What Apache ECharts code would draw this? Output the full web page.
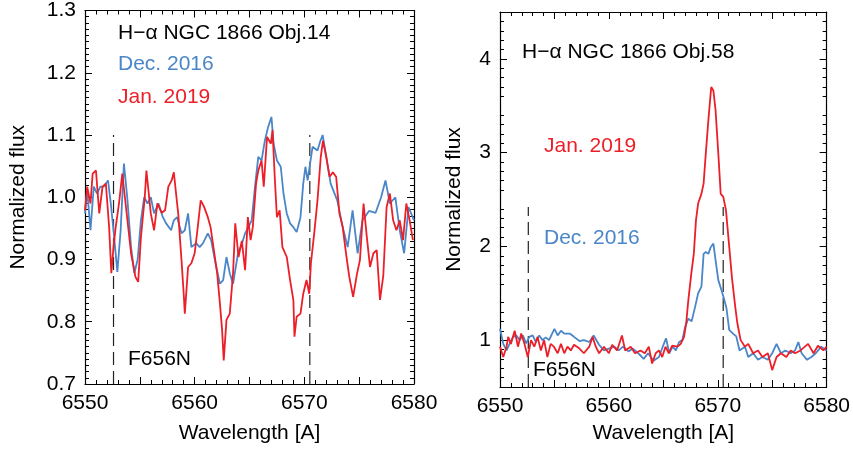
<!DOCTYPE html>
<html><head><meta charset="utf-8">
<script src="https://cdn.jsdelivr.net/npm/echarts@6/dist/echarts.min.js"></script>
<style>html,body{margin:0;padding:0;background:#fff}#c{width:853px;height:451px}</style>
</head><body><div id="c"></div>
<script>
// ---- Data: Obj.14 (left panel) ----
const wlDec14 = [6550.0,6550.2,6550.5,6550.8,6551.1,6551.4,6551.7,6552.1,6552.35,6552.6,6552.95,6553.25,6553.55,6553.85,6554.2,6554.5,6554.8,6555.1,6555.4,6555.7,6556.0,6556.3,6556.7,6557.1,6557.4,6557.85,6558.1,6558.4,6558.8,6559.1,6559.4,6559.7,6560.15,6560.45,6560.75,6561.2,6561.5,6561.9,6562.3,6562.6,6562.9,6563.2,6563.5,6563.95,6564.3,6564.6,6564.9,6565.2,6565.5,6565.8,6566.1,6566.4,6566.7,6567.0,6567.2,6567.5,6567.85,6568.1,6568.4,6568.7,6569.0,6569.3,6569.65,6569.9,6570.1,6570.3,6570.75,6571.2,6571.45,6571.67,6572.0,6572.4,6573.0,6573.5,6573.95,6574.4,6574.86,6575.3,6575.9,6576.5,6577.0,6577.4,6577.8,6578.3,6578.7,6579.1,6579.5,6580.0];
const fluxDec14 = [0.974,1.011,0.947,1.017,1.006,1.017,1.017,1.027,0.99,0.947,0.88,0.947,1.054,1.0,0.92,0.878,0.9,0.963,1.0,0.99,1.0,0.974,0.99,0.968,0.958,0.947,0.963,0.968,0.942,0.947,0.974,0.92,0.926,0.92,0.926,0.942,0.931,0.894,0.861,0.867,0.904,0.878,0.861,0.91,0.925,0.942,0.952,0.963,1.017,1.065,1.059,1.091,1.113,1.129,1.086,1.059,1.049,1.006,0.974,0.958,0.952,0.944,0.968,1.022,1.049,1.027,1.081,1.075,1.09,1.1,1.065,1.022,0.995,0.952,0.92,0.979,0.91,0.963,0.978,0.975,1.0,1.027,0.99,1.0,0.947,0.91,0.984,0.963];
const wlJan14 = [6550.0,6550.2,6550.5,6550.7,6551.0,6551.3,6551.6,6551.9,6552.2,6552.4,6552.6,6552.8,6553.1,6553.4,6553.7,6554.2,6554.6,6554.85,6555.1,6555.45,6555.6,6556.0,6556.3,6556.6,6557.0,6557.3,6557.6,6557.9,6558.1,6558.4,6558.5,6558.8,6559.0,6559.1,6559.4,6559.7,6560.0,6560.25,6560.55,6560.85,6561.2,6561.45,6561.75,6562.05,6562.3,6562.5,6562.65,6562.9,6563.2,6563.5,6563.7,6564.0,6564.3,6564.6,6564.85,6565.1,6565.3,6565.6,6565.8,6566.1,6566.3,6566.6,6566.95,6567.1,6567.3,6567.5,6567.75,6568.0,6568.4,6568.7,6569.0,6569.1,6569.3,6569.65,6569.9,6570.2,6570.45,6570.6,6570.9,6571.2,6571.5,6571.7,6572.0,6572.3,6572.6,6572.9,6573.2,6573.5,6573.8,6574.1,6574.45,6574.8,6575.07,6575.4,6575.7,6575.99,6576.3,6576.6,6576.9,6577.2,6577.5,6577.8,6578.1,6578.4,6578.7,6579.0,6579.3,6579.6,6579.9];
const fluxJan14 = [0.979,1.017,0.99,1.038,1.043,0.974,1.017,1.022,0.952,0.878,0.92,0.952,0.99,1.038,0.99,0.91,0.872,0.864,0.936,1.0,1.043,0.974,0.947,0.99,0.975,0.979,1.017,1.027,1.04,0.99,0.974,0.899,0.845,0.813,0.888,0.894,0.91,0.947,0.995,0.985,0.968,0.952,0.915,0.878,0.83,0.787,0.738,0.803,0.813,0.878,0.958,0.904,0.93,0.883,0.968,0.931,0.952,1.022,1.043,1.059,1.017,1.097,1.086,1.108,1.033,0.968,0.979,0.92,0.904,0.867,0.835,0.776,0.808,0.813,0.845,0.867,0.845,0.894,0.942,0.995,1.065,1.091,1.065,1.033,1.04,1.033,0.974,0.952,0.91,0.872,0.84,0.877,0.899,0.99,0.936,0.888,0.91,0.915,0.835,0.874,0.984,1.006,0.963,0.947,0.963,0.931,0.99,0.963,0.931];

// ---- Data: Obj.58 (right panel) ----
const wlDec58 = [6550.0,6550.3,6550.6,6550.9,6551.2,6551.5,6551.8,6552.1,6552.4,6552.7,6553.0,6553.3,6553.6,6553.9,6554.2,6554.5,6555.0,6555.3,6555.6,6555.9,6556.4,6556.8,6557.3,6557.7,6558.2,6558.6,6559.1,6559.55,6560.0,6560.5,6560.9,6561.3,6561.8,6562.2,6562.7,6563.2,6563.6,6564.1,6564.6,6564.95,6565.25,6565.55,6565.85,6566.15,6566.45,6566.75,6567.0,6567.3,6567.6,6567.93,6568.2,6568.5,6568.7,6568.9,6569.14,6569.35,6569.6,6569.8,6570.05,6570.35,6570.6,6570.8,6571.05,6571.4,6571.7,6572.0,6572.5,6572.8,6573.25,6573.7,6574.1,6574.6,6575.0,6575.4,6575.8,6576.2,6576.7,6577.1,6577.4,6577.7,6578.2,6578.6,6579.0,6579.5,6580.0];
const fluxDec58 = [1.12,0.96,0.89,0.965,1.035,1.05,1.0,1.05,0.965,1.035,1.05,0.98,1.05,1.0,1.03,1.0,1.12,1.05,1.1,1.07,1.07,1.035,0.99,1.0,0.98,1.05,0.95,0.89,0.91,0.93,0.89,0.93,0.88,0.91,0.86,0.80,0.86,0.78,0.82,0.93,1.02,0.86,0.93,0.89,0.98,1.0,1.14,1.23,1.2,1.36,1.5,1.57,1.92,1.94,1.92,1.99,2.03,1.85,1.64,1.53,1.43,1.34,1.11,1.07,1.04,0.89,0.93,0.82,0.86,0.79,0.82,0.79,0.86,0.96,0.86,0.89,0.86,0.89,0.98,0.86,0.79,0.82,0.86,0.93,0.89];
const wlJan58 = [6550.0,6550.3,6550.6,6550.75,6551.0,6551.35,6551.65,6551.95,6552.25,6552.55,6552.85,6553.15,6553.45,6553.75,6554.05,6554.35,6554.65,6554.95,6555.3,6555.6,6555.9,6556.2,6556.5,6556.8,6557.3,6557.7,6558.2,6558.5,6558.8,6559.1,6559.55,6560.0,6560.3,6560.75,6561.2,6561.5,6562.0,6562.4,6562.9,6563.3,6563.67,6563.97,6564.3,6564.6,6564.9,6565.2,6565.5,6565.8,6566.3,6566.6,6566.9,6567.1,6567.3,6567.57,6567.8,6568.0,6568.2,6568.5,6568.7,6568.9,6569.14,6569.4,6569.6,6569.8,6570.05,6570.27,6570.5,6570.75,6571.05,6571.3,6571.6,6571.8,6572.1,6572.5,6572.8,6573.25,6573.7,6574.1,6574.6,6575.0,6575.4,6575.8,6576.3,6576.7,6577.1,6577.6,6578.0,6578.3,6578.8,6579.2,6579.7,6580.0];
const fluxJan58 = [0.93,0.82,0.93,1.035,0.96,1.1,0.93,1.07,0.96,0.82,1.0,0.93,1.035,0.89,1.0,0.82,0.96,0.93,0.86,0.96,0.86,0.93,0.89,0.95,0.91,0.86,0.93,1.035,0.93,0.86,0.93,0.86,0.95,0.89,1.05,0.89,0.93,0.86,0.89,0.86,0.93,0.75,0.86,0.89,0.82,0.93,0.86,0.94,0.93,0.96,1.035,1.18,1.43,1.71,1.92,2.28,2.46,2.56,2.67,2.99,3.35,3.70,3.66,3.45,2.99,2.56,2.53,2.39,2.0,1.67,1.36,1.18,1.0,0.93,0.96,0.86,0.89,0.82,0.86,0.68,0.82,0.86,0.82,0.89,0.86,0.89,0.93,0.96,0.86,0.94,0.89,0.93];

// F656N filter edges and dashed-line ranges
const filterEdges = [6552.6, 6570.5];
const dashTop14 = 1.1, dashBottom14 = 0.7;
const dashTop58 = 2.42, dashBottom58 = 0.5;

// Axis tick values
const yLabels58 = [1, 2, 3, 4];

const BLUE = '#4a86c8', RED = '#ec1f28';
const FONT = '"Liberation Sans", Arial, Helvetica, sans-serif';
const zip = (a, b) => a.map((v, i) => [v, b[i]]);

const tick = () => ({show: true, inside: true, length: 7, lineStyle: {color: '#000', width: 1}});
const minor = (n) => ({show: true, splitNumber: n, length: 4, lineStyle: {color: '#000', width: 1}});
const line = () => ({show: true, onZero: false, lineStyle: {color: '#000', width: 1.2}});
const label = (show, fmt, extra) => Object.assign({show: show, margin: 9, fontSize: 21, color: '#000', fontFamily: FONT, formatter: fmt}, extra || {});
const nameStyle = () => ({fontSize: 21, color: '#000', fontFamily: FONT});

const xAx = (g, pos, s, gap) => Object.assign({type: 'value', gridIndex: g, position: pos, min: 6550, max: 6580, interval: 5,
  axisLine: line(), axisTick: tick(), minorTick: minor(5), splitLine: {show: false},
  axisLabel: label(s, v => (Math.round(v) % 10 === 0 ? String(Math.round(v)) : ''))},
  s ? {name: 'Wavelength [A]', nameLocation: 'middle', nameGap: gap, nameTextStyle: nameStyle()} : {});
const yA = (pos, s) => Object.assign({type: 'value', gridIndex: 0, position: pos, min: 0.7, max: 1.3, interval: 0.1,
  axisLine: line(), axisTick: tick(), minorTick: minor(10), splitLine: {show: false},
  axisLabel: label(s, v => v.toFixed(1))},
  s ? {name: 'Normalized flux', nameLocation: 'middle', nameRotate: 90, nameGap: 56, nameTextStyle: nameStyle()} : {});
const yB = (pos, s) => Object.assign({type: 'value', gridIndex: 1, position: pos, min: 0.5, max: 4.5, interval: 0.5,
  axisLine: line(), axisTick: Object.assign(tick(), {customValues: yLabels58}), minorTick: minor(5), splitLine: {show: false},
  axisLabel: label(s, v => String(Math.round(v)), {customValues: yLabels58})},
  s ? {name: 'Normalized flux', nameLocation: 'middle', nameRotate: 90, nameGap: 35, nameTextStyle: nameStyle()} : {});

function dashSeries(xi, yi, x, y0, y1) {
  return {type: 'line', xAxisIndex: xi, yAxisIndex: yi, data: [[x, y0], [x, y1]], symbol: 'none',
    lineStyle: {color: '#222', width: 1.2, type: [13, 6]}, silent: true, z: 1};
}
function specSeries(xi, yi, data, color) {
  return {type: 'line', xAxisIndex: xi, yAxisIndex: yi, data: data, symbol: 'none',
    lineStyle: {color: color, width: 1.8}, silent: true, z: 2};
}
function txt(x, y, s, color) {
  return {type: 'text', x: x, y: y, z: 10,
    style: {text: s, fill: color, font: '21px ' + FONT, textAlign: 'left', textVerticalAlign: 'middle'}};
}

const chart = echarts.init(document.getElementById('c'));
chart.setOption({
  animation: false,
  backgroundColor: '#fff',
  grid: [
    {left: 85, top: 10, width: 329, height: 374},
    {left: 500, top: 12, width: 329, height: 375}
  ],
  xAxis: [xAx(0, 'bottom', true, 39), xAx(0, 'top', false), xAx(1, 'bottom', true, 36), xAx(1, 'top', false)],
  yAxis: [yA('left', true), yA('right', false), yB('left', true), yB('right', false)],
  series: [
    dashSeries(0, 0, filterEdges[0], dashBottom14, dashTop14),
    dashSeries(0, 0, filterEdges[1], dashBottom14, dashTop14),
    specSeries(0, 0, zip(wlDec14, fluxDec14), BLUE),
    specSeries(0, 0, zip(wlJan14, fluxJan14), RED),
    dashSeries(2, 2, filterEdges[0], dashBottom58, dashTop58),
    dashSeries(2, 2, filterEdges[1], dashBottom58, dashTop58),
    specSeries(2, 2, zip(wlDec58, fluxDec58), BLUE),
    specSeries(2, 2, zip(wlJan58, fluxJan58), RED)
  ],
  graphic: [
    txt(118, 33, 'H\u2212\u03b1 NGC 1866 Obj.14', '#000'),
    txt(118, 64, 'Dec. 2016', BLUE),
    txt(118, 97, 'Jan. 2019', RED),
    txt(128, 359, 'F656N', '#000'),
    txt(522, 52, 'H\u2212\u03b1 NGC 1866 Obj.58', '#000'),
    txt(544, 146, 'Jan. 2019', RED),
    txt(544, 238, 'Dec. 2016', BLUE),
    txt(533, 370, 'F656N', '#000')
  ]
});
</script>
</body></html>
